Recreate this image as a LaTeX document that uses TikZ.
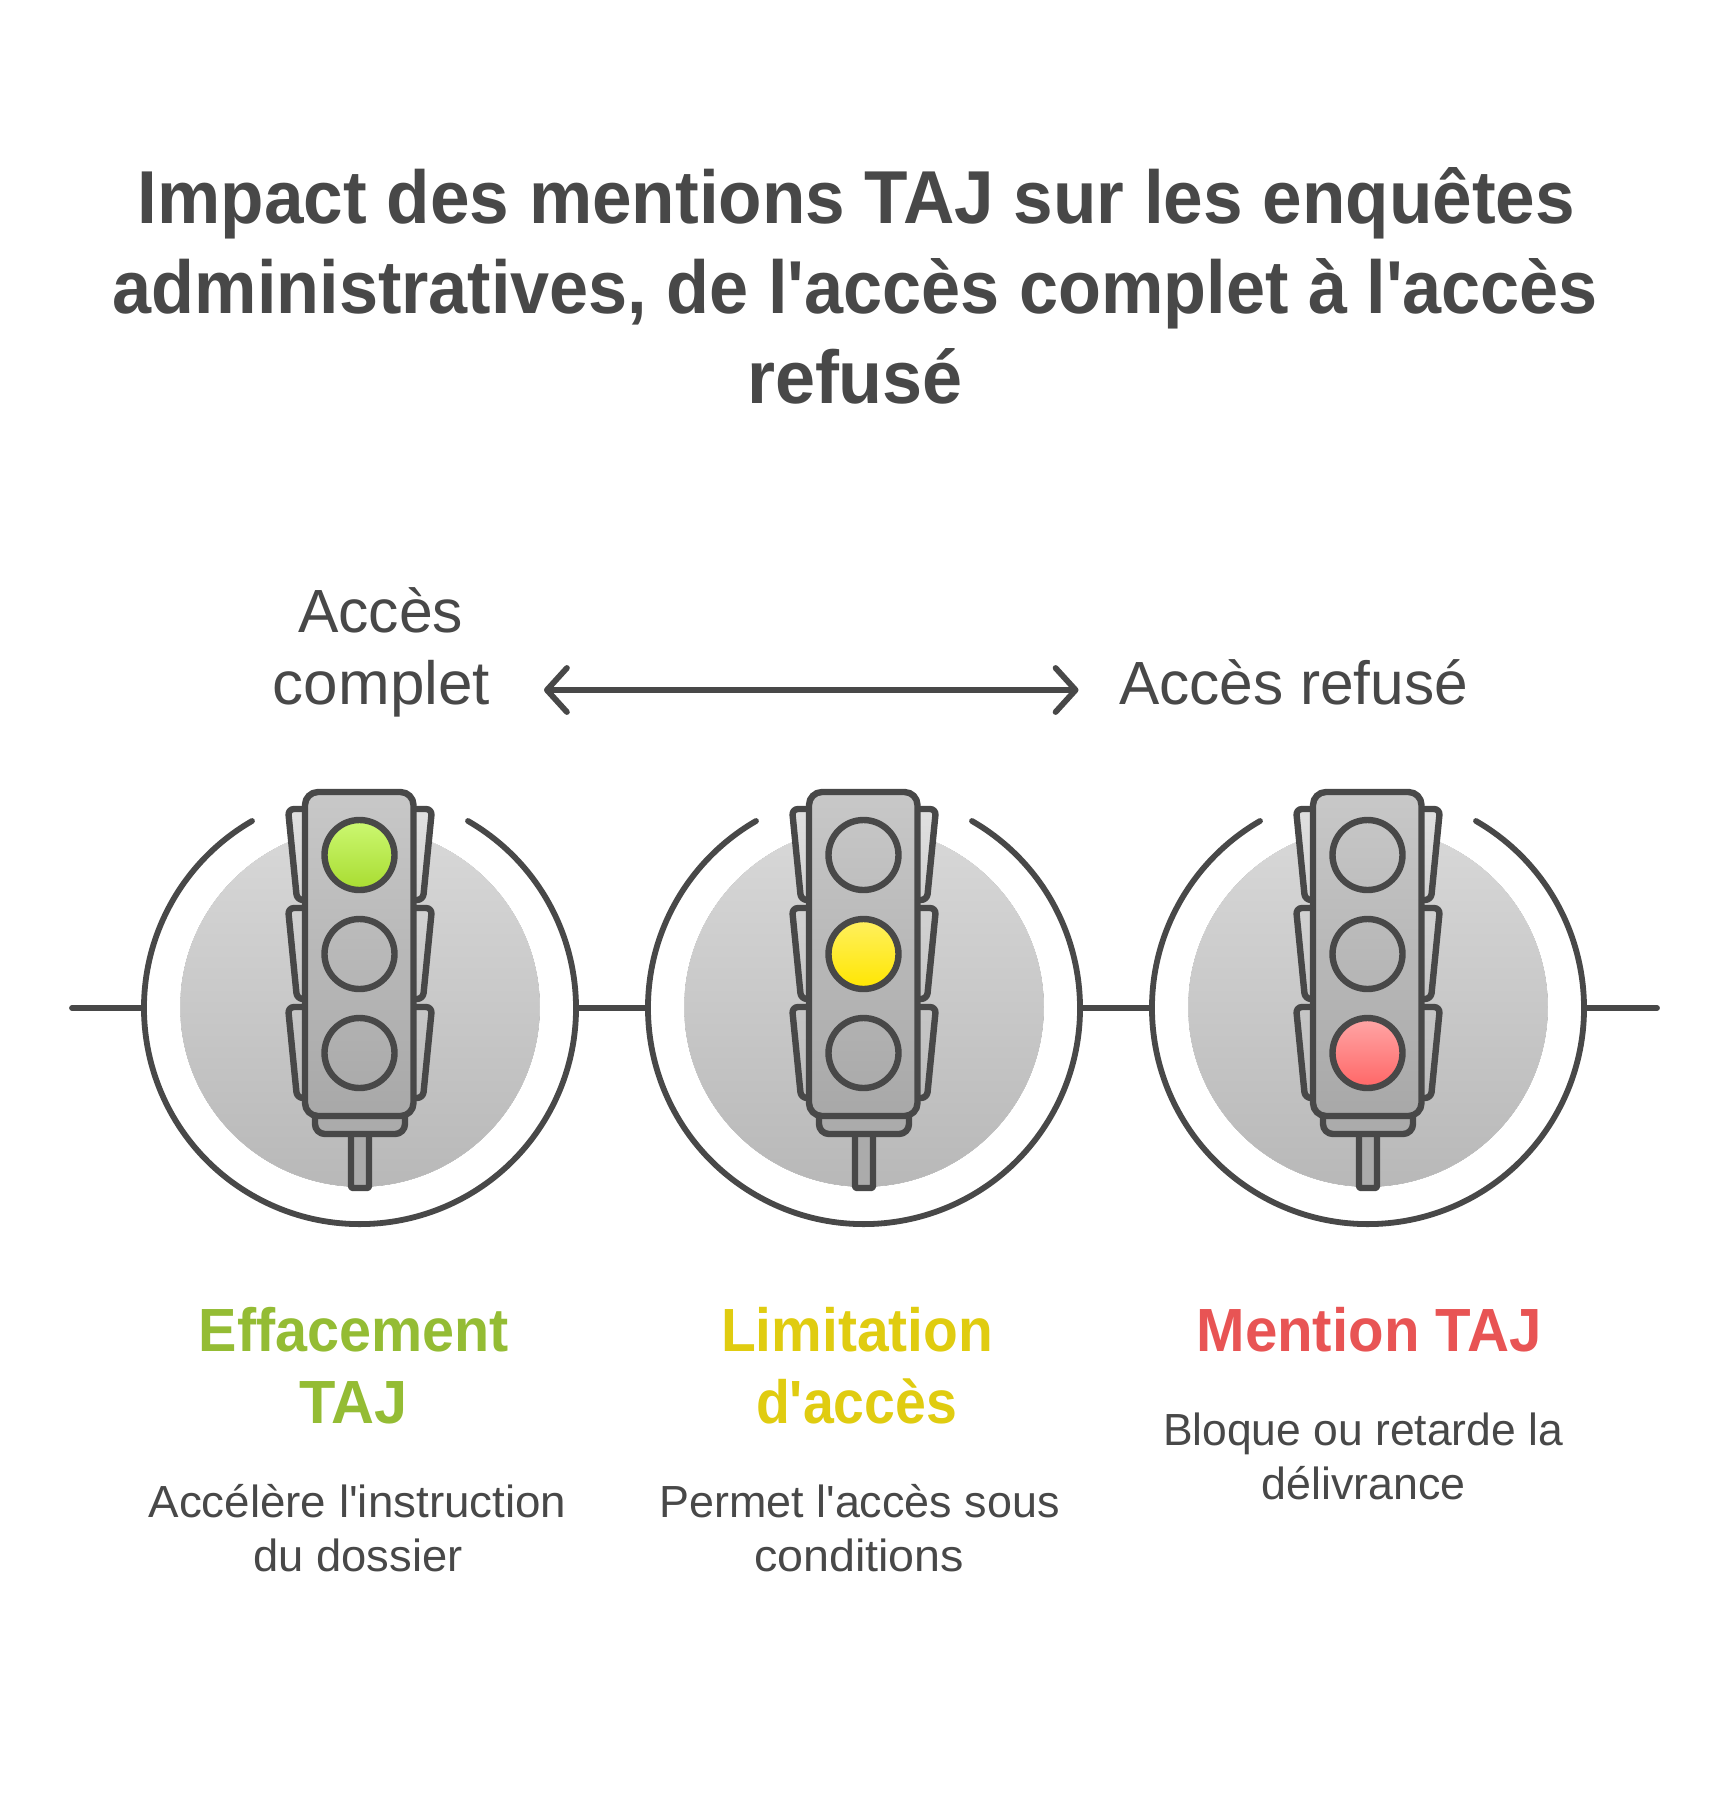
\documentclass[tikz,border=0pt]{standalone}
\usepackage{fontspec}
\newfontfamily\rob{Liberation Sans}
\usetikzlibrary{arrows.meta}
\definecolor{ink}{HTML}{484848}
\definecolor{grn}{HTML}{94BC34}
\definecolor{yel}{HTML}{E0CC10}
\definecolor{rd}{HTML}{E85454}
\definecolor{discT}{HTML}{D8D8D8}
\definecolor{discB}{HTML}{B8B8B8}
\definecolor{bodyT}{HTML}{C8C8C8}
\definecolor{bodyB}{HTML}{A8A8A8}
\definecolor{baseC}{HTML}{ABABAB}
\definecolor{wingA}{HTML}{E0E0E0}
\definecolor{wingB}{HTML}{D2D2D2}
\definecolor{wingC}{HTML}{C6C6C6}
\definecolor{wingD}{HTML}{BCBCBC}
\definecolor{lgT}{HTML}{CCF872}
\definecolor{lgB}{HTML}{A8DC30}
\definecolor{lyT}{HTML}{FFF060}
\definecolor{lyB}{HTML}{FFE600}
\definecolor{lrT}{HTML}{FFA6A6}
\definecolor{lrB}{HTML}{FF6666}
\tikzset{x=1pt,y=-1pt,
 line/.style={draw=ink,line width=5.8pt,line cap=round,line join=round},
 iconline/.style={draw=ink,line width=6.4pt,line cap=round,line join=round},
 title/.style={text=ink,font=\rob\fontsize{75}{75}\selectfont\bfseries,inner sep=0,anchor=base},
 axislabel/.style={text=ink,font=\rob\fontsize{61}{61}\selectfont,inner sep=0,anchor=base},
 head/.style={font=\rob\fontsize{61}{61}\selectfont\bfseries,inner sep=0,anchor=base},
 bodytext/.style={text=ink,font=\rob\fontsize{45}{45}\selectfont,inner sep=0,anchor=base},
 lampoff/.style={},
 lampgreen/.style={top color=lgT,bottom color=lgB},
 lampyellow/.style={top color=lyT,bottom color=lyB},
 lampred/.style={top color=lrT,bottom color=lrB}}
\newcommand{\fitw}[2]{\resizebox{#1pt}{\height}{#2}}
% #1 centre x, #2 top y, #3 top colour, #4 bottom colour
\newcommand{\wingpair}[4]{%
 \path[iconline,top color=#3,bottom color=#4,rounded corners=6pt]
  (#1-45,#2) -- (#1-72,#2) -- (#1-63,#2+91) -- (#1-45,#2+91);
 \path[iconline,top color=#3,bottom color=#4,rounded corners=6pt]
  (#1+45,#2) -- (#1+72,#2) -- (#1+63,#2+91) -- (#1+45,#2+91);}
% #1 centre x, #2 prefix for the ring ends, #3 #4 #5 lamp styles
\newcommand{\signal}[5]{%
 \fill[top color=discT,bottom color=discB] (#1,1007) circle[radius=180pt];
 \draw[white,line width=1.2pt] (#1,1007) circle[radius=180.6pt];
 \draw[line] (#1+108,821) arc[start angle=60,end angle=-240,radius=216pt];
 \coordinate (#2W) at (#1-216,1008);
 \coordinate (#2E) at (#1+216,1008);
 \wingpair{#1}{809}{wingA}{wingB}
 \wingpair{#1}{908}{wingB}{wingC}
 \wingpair{#1}{1007}{wingC}{wingD}
 \path[iconline,fill=baseC,rounded corners=1.5pt] (#1-9,1128) rectangle (#1+9,1188);
 \path[iconline,fill=baseC,rounded corners=10pt] (#1-45,1105) -- (#1-45,1134) -- (#1+45,1134) -- (#1+45,1105);
 \path[iconline,top color=bodyT,bottom color=bodyB,rounded corners=13pt] (#1-55,792) rectangle (#1+53.5,1116);
 \path[iconline,#3] (#1-.5,855) circle[radius=35pt];
 \path[iconline,#4] (#1-.5,954) circle[radius=35pt];
 \path[iconline,#5] (#1-.5,1053) circle[radius=35pt];
}
\begin{document}
\begin{tikzpicture}
\useasboundingbox (0,0) rectangle (1728,1800);
\fill[white] (0,0) rectangle (1728,1800);
% title
\node[title] (t1) at (856.5,223) {\fitw{1437}{Impact des mentions TAJ sur les enquêtes}};
\node[title] (t2) at (855.5,313) {\fitw{1485}{administratives, de l'accès complet à l'accès}};
\node[title] (t3) at (855,403) {\fitw{216}{refusé}};
% axis
\node[axislabel] (a1) at (380.5,632) {\fitw{165}{Accès}};
\node[axislabel] (a2) at (381.5,704) {\fitw{217}{complet}};
\node[axislabel] (a3) at (1293.5,704) {\fitw{349}{Accès refusé}};
\coordinate (arL) at (544,690);
\coordinate (arR) at (1078.5,690);
\draw[line,{Straight Barb[length=20pt,width=44pt,round]}-{Straight Barb[length=20pt,width=44pt,round]}] (arL) -- (arR);
% signals
\signal{360}{s1}{lampgreen}{lampoff}{lampoff}
\signal{864}{s2}{lampoff}{lampyellow}{lampoff}
\signal{1368}{s3}{lampoff}{lampoff}{lampred}
% connecting line
\coordinate (lineL) at (72,1008);
\coordinate (lineR) at (1657,1008);
\draw[line] (lineL) -- (s1W);
\draw[line] (s1E) -- (s2W);
\draw[line] (s2E) -- (s3W);
\draw[line] (s3E) -- (lineR);
% headings
\node[head,text=grn] (h1a) at (354,1351.5) {\fitw{310}{Effacement}};
\node[head,text=grn] (h1b) at (353.5,1423) {\fitw{108}{TAJ}};
\node[head,text=yel] (h2a) at (857,1351.5) {\fitw{272}{Limitation}};
\node[head,text=yel] (h2b) at (856.5,1423) {\fitw{201}{d'accès}};
\node[head,text=rd] (h3a) at (1369,1351.5) {\fitw{345}{Mention TAJ}};
% bodies
\node[bodytext] (b1a) at (357.5,1517) {\fitw{418}{Accélère l'instruction}};
\node[bodytext] (b1b) at (358,1571) {\fitw{209}{du dossier}};
\node[bodytext] (b2a) at (859.5,1517) {\fitw{400}{Permet l'accès sous}};
\node[bodytext] (b2b) at (859,1571) {\fitw{210}{conditions}};
\node[bodytext] (b3a) at (1363,1445) {\fitw{400}{Bloque ou retarde la}};
\node[bodytext] (b3b) at (1363.5,1499) {\fitw{204}{délivrance}};
\end{tikzpicture}
\end{document}
